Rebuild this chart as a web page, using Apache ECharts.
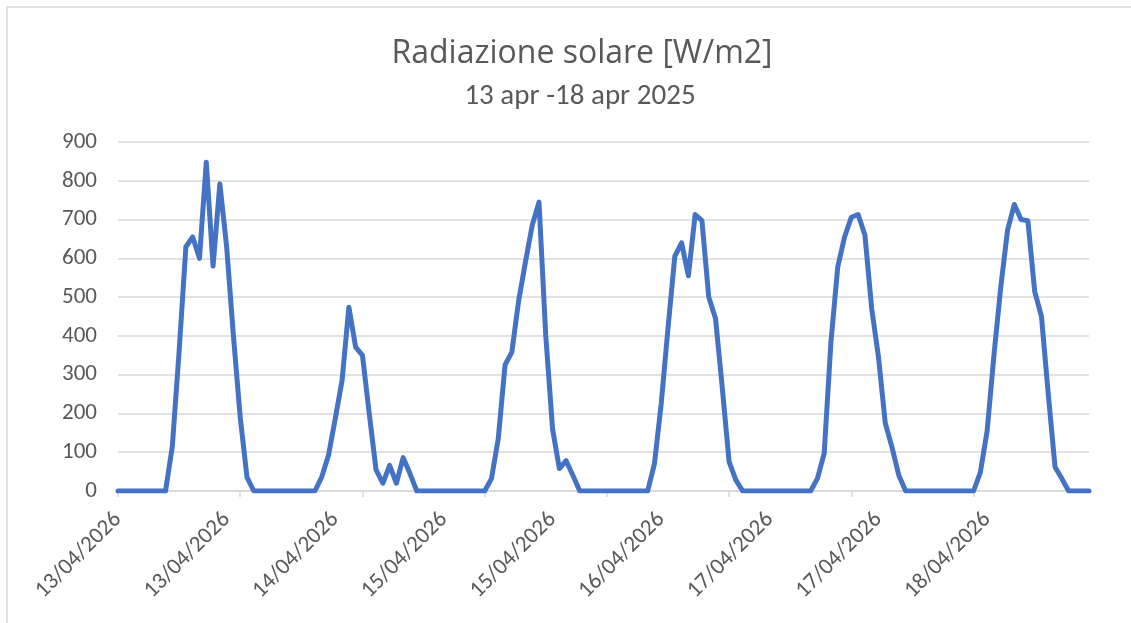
<!DOCTYPE html>
<html>
<head>
<meta charset="utf-8">
<script src="https://cdn.jsdelivr.net/npm/echarts@6/dist/echarts.min.js"></script>
<style>
  html, body { margin: 0; padding: 0; background: #fff; }
  #line-chart { width: 1131px; height: 623px; }
</style>
</head>
<body>
<div id="line-chart"></div>
<script>
// giorni (una etichetta per ogni ora)
var days = ['13/04/2026', '14/04/2026', '15/04/2026', '16/04/2026', '17/04/2026', '18/04/2026'];
var hoursPerDay = 24;

// radiazione solare oraria [W/m2]
var radiazione = [
  0, 0, 0, 0, 0, 0, 0, 0,
  115, 360, 630, 655, 600, 848, 580, 792, 630, 400, 190, 35,
  0, 0, 0, 0, 0, 0, 0, 0, 0, 0,
  36, 92, 187, 285, 474, 371, 350, 200, 55, 20, 66, 20, 86, 45,
  0, 0, 0, 0, 0, 0, 0, 0, 0, 0, 0,
  32, 135, 325, 358, 490, 590, 685, 745, 400, 160, 58, 78, 40,
  0, 0, 0, 0, 0, 0, 0, 0, 0, 0, 0,
  70, 225, 420, 605, 640, 555, 713, 697, 500, 445, 265, 75, 28,
  0, 0, 0, 0, 0, 0, 0, 0, 0, 0, 0,
  32, 97, 385, 578, 655, 706, 713, 660, 470, 345, 175, 112, 40,
  0, 0, 0, 0, 0, 0, 0, 0, 0, 0, 0,
  48, 155, 350, 525, 672, 739, 700, 697, 515, 450, 250, 62, 32,
  0, 0, 0, 0
];

var categories = [];
days.forEach(function (d) {
  for (var h = 0; h < hoursPerDay; h++) categories.push(d);
});

var font = 'Carlito, Lato, sans-serif';
var grey = '#595959';
var gridColor = '#D9D9D9';

var myChart = echarts.init(document.getElementById('line-chart'));
var option = {
  animation: false,
  title: [
    {
      text: 'Radiazione solare [W/m2]',
      left: 577, top: 33, textAlign: 'center',
      textStyle: { fontFamily: '"Open Sans", sans-serif', fontSize: 32, fontWeight: 'normal', color: grey }
    },
    {
      text: '13 apr -18 apr 2025',
      left: 575, top: 77, textAlign: 'center',
      textStyle: { fontFamily: font, fontSize: 29, fontWeight: 'normal', color: grey }
    }
  ],
  graphic: [{
    type: 'rect',
    shape: { x: 7, y: 7, width: 1200, height: 700 },
    style: { fill: 'none', stroke: gridColor, lineWidth: 1.5 },
    silent: true
  }],
  grid: { left: 118, right: 42, top: 142, bottom: 132 },
  xAxis: {
    type: 'category',
    data: categories,
    boundaryGap: false,
    axisLine: { lineStyle: { color: gridColor, width: 1.5 } },
    axisTick: { show: true, interval: 17, length: 6, lineStyle: { color: gridColor, width: 1.5 } },
    axisLabel: {
      interval: 15,
      rotate: 45,
      margin: 25,
      fontFamily: font,
      fontSize: 23,
      color: grey
    }
  },
  yAxis: {
    type: 'value',
    min: 0,
    max: 900,
    interval: 100,
    axisLine: { show: false },
    axisTick: { show: false },
    axisLabel: { margin: 21, fontFamily: font, fontSize: 23, color: grey },
    splitLine: { lineStyle: { color: gridColor, width: 1.5 } }
  },
  series: [{
    name: 'Radiazione solare',
    type: 'line',
    data: radiazione,
    symbol: 'none',
    lineStyle: { color: '#4472C4', width: 5, join: 'round', cap: 'round' }
  }]
};
myChart.setOption(option);
</script>
</body>
</html>
